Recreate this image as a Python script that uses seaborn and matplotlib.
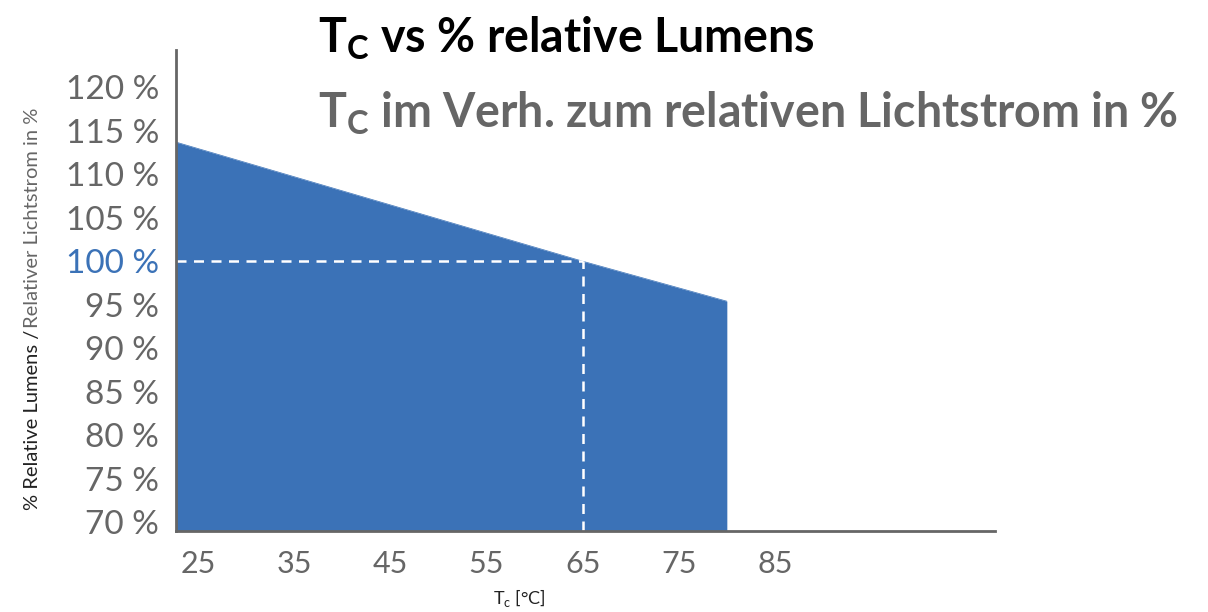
import pandas as pd
import seaborn as sns
import matplotlib.pyplot as plt

# Werte
tc_werte = [22.7, 65, 80]
lumen_werte = [113.7, 100.0, 95.4]
x_ticks = [25, 35, 45, 55, 65, 75, 85]
y_ticks = [70, 75, 80, 85, 90, 95, 100, 105, 110, 115, 120]
ref_tc = 65
ref_lumen = 100

BLAU = "#3b72b7"
GRAU = "#666666"

def plot_chart():
    df = pd.DataFrame({"Tc": tc_werte, "Lumen": lumen_werte})

    sns.set_theme(style="white")
    plt.rcParams["font.family"] = ["Lato", "DejaVu Sans"]

    fig = plt.figure(figsize=(12.08, 6.12), dpi=100)
    ax = fig.add_axes([0.1457, 0.1324, 0.678, 0.786])

    ymin = 68.97
    sns.lineplot(data=df, x="Tc", y="Lumen", color=BLAU, linewidth=0.5, ax=ax)
    ax.fill_between(df["Tc"], df["Lumen"], ymin, color=BLAU, linewidth=0)

    # Referenzlinien bei 65 °C / 100 %
    ax.plot([tc_werte[0], ref_tc], [ref_lumen, ref_lumen], color="white",
            linestyle=(0, (4, 3)), linewidth=1.8)
    ax.plot([ref_tc, ref_tc], [ymin, ref_lumen], color="white",
            linestyle=(0, (4, 3)), linewidth=1.8)

    ax.set_xlim(22.7, 107.9)
    ax.set_ylim(ymin, 124.3)
    ax.set_xticks(x_ticks)
    ax.set_xticklabels([str(t) for t in x_ticks])
    ax.set_yticks(y_ticks)
    ax.set_yticklabels([f"{t} %" for t in y_ticks])
    ax.tick_params(axis="both", length=0, labelcolor=GRAU)
    ax.tick_params(axis="y", pad=12, labelsize=24)
    ax.tick_params(axis="x", pad=14, labelsize=22)
    for lab in ax.get_yticklabels():
        if lab.get_text() == "100 %":
            lab.set_color(BLAU)
    ax.set_xlabel("")
    ax.set_ylabel("")

    sns.despine(ax=ax)
    for s in ["left", "bottom"]:
        ax.spines[s].set_color(GRAU)
        ax.spines[s].set_linewidth(2)

    # Achsentitel
    fig.text(519 / 1208, 1 - 598 / 612, r"T$_\mathregular{c}$ [°C]", fontsize=13,
             color="#222222", ha="center", va="center")
    fig.text(33 / 1208, 1 - 510 / 612, "% Relative Lumens /", fontsize=14.5,
             color="#222222", rotation=90, ha="center", va="bottom")
    fig.text(33 / 1208, 1 - 328 / 612, "Relativer Lichtstrom in %", fontsize=14.5,
             color=GRAU, rotation=90, ha="center", va="bottom")

    # Titel
    fig.text(318 / 1208, 1 - 38 / 612, r"T$_\mathregular{C}$ vs % relative Lumens",
             fontsize=33.5, fontweight="bold", color="black", ha="left", va="center")
    fig.text(318 / 1208, 1 - 113 / 612,
             r"T$_\mathregular{C}$ im Verh. zum relativen Lichtstrom in %",
             fontsize=33.5, fontweight="bold", color=GRAU, ha="left", va="center")

    plt.savefig("out.png", dpi=100)

if __name__ == "__main__":
    plot_chart()
